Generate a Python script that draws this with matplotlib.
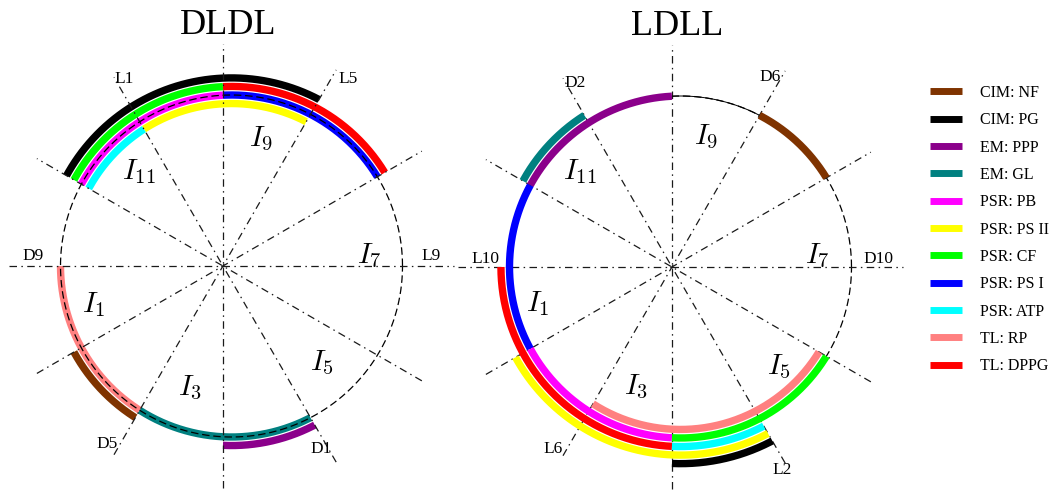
import numpy as np
import matplotlib
matplotlib.use('Agg')
import matplotlib.pyplot as plt
from matplotlib.lines import Line2D

plt.rcParams['font.family'] = ['Liberation Serif', 'DejaVu Serif']
plt.rcParams['mathtext.fontset'] = 'cm'

# legend order and colours
series = ['CIM: NF', 'CIM: PG', 'EM: PPP', 'EM: GL', 'PSR: PB', 'PSR: PS II',
          'PSR: CF', 'PSR: PS I', 'PSR: ATP', 'TL: RP', 'TL: DPPG']
colors = ['#7f3300', '#000000', '#8b008b', '#008080', '#ff00ff', '#ffff00',
          '#00ff00', '#0000ff', '#00ffff', '#ff8080', '#ff0000']

# DLDL: which series is active between two radial lines (degrees), ring 0 = base circle
dldl_series = ['TL: RP', 'CIM: NF', 'EM: GL', 'EM: PPP', 'CIM: PG', 'PSR: CF',
               'TL: DPPG', 'PSR: PB', 'PSR: PS I', 'PSR: PS II', 'PSR: ATP']
dldl_start = [180, 210, 240, 270, 60, 90, 30, 90, 30, 60, 120]
dldl_end = [240, 240, 300, 300, 150, 150, 90, 150, 90, 120, 150]
dldl_ring = [0, 1, 0, 1, 2, 1, 1, 0, 0, -1, -1]

# LDLL
ldll_series = ['EM: PPP', 'EM: GL', 'CIM: NF', 'PSR: PS I', 'TL: DPPG', 'PSR: PB',
               'PSR: PS II', 'TL: RP', 'PSR: CF', 'PSR: ATP', 'CIM: PG']
ldll_start = [90, 120, 30, 150, 180, 210, 210, 240, 270, 270, 270]
ldll_end = [150, 150, 60, 210, 270, 270, 300, 330, 330, 300, 300]
ldll_ring = [0, 1, 0, 0, 1, 0, 2, -1, 0, 1, 3]

# light / dark switching points written next to the radial lines
dldl_marks = ['L9', 'L5', 'L1', 'D9', 'D5', 'D1']
ldll_marks = ['D10', 'D6', 'D2', 'L10', 'L6', 'L2']
interval_names = ['$I_1$', '$I_3$', '$I_5$', '$I_7$', '$I_9$', '$I_{11}$']

# label placement (polar around the circle centre / xy for the interval names)
dldl_mark_ang = [3, 58, 120, 177, 235, 296]
dldl_mark_rad = [1.17, 1.29, 1.26, 1.16, 1.27, 1.19]
ldll_mark_ang = [2.3, 64.8, 119.8, 177.7, 235, 296.6]
ldll_mark_rad = [1.16, 1.23, 1.24, 1.14, 1.30, 1.33]
dldl_int_x = [-0.804, -0.243, 0.529, 0.804, 0.173, -0.541]
dldl_int_y = [-0.228, -0.713, -0.567, 0.058, 0.743, 0.550]
ldll_int_x = [-0.833, -0.260, 0.576, 0.798, 0.149, -0.588]
ldll_int_y = [-0.211, -0.702, -0.585, 0.064, 0.760, 0.556]

W, H = 1052, 493
S = 171.0          # pixels per unit radius
HUB = -0.05        # radial lines meet slightly left of the circle centre
GAP = 0.05         # distance between stacked rings
LINE_R = 1.3
ARC_LW = 5.3

fig = plt.figure(figsize=(W / 100, H / 100), dpi=100)


def make_axes(cx, cy):
    hx, top, bot = 1.35, 1.45, 1.35
    left = cx - hx * S
    bottom = H - (cy + bot * S)
    ax = fig.add_axes([left / W, bottom / H, 2 * hx * S / W, (top + bot) * S / H])
    ax.set_xlim(-hx, hx)
    ax.set_ylim(-bot, top)
    ax.set_axis_off()
    ax.patch.set_alpha(0)
    return ax


def line_hit(theta, r):
    # angle (around the centre) where the radial line at theta meets a circle of radius r
    c, s = np.cos(theta), np.sin(theta)
    t = -HUB * c + np.sqrt(r ** 2 - (HUB * s) ** 2)
    return np.arctan2(t * s, HUB + t * c)


def draw_panel(ax, title, names, start, end, ring, marks, mark_ang, mark_rad,
               int_x, int_y, guides_on_top):
    z_guides = 5 if guides_on_top else 1
    th = np.linspace(0, 2 * np.pi, 400)
    ax.plot(np.cos(th), np.sin(th), color='k', lw=0.9, ls=(0, (6, 3)), zorder=z_guides)

    for deg in range(0, 180, 30):
        a = np.radians(deg)
        c, s = np.cos(a), np.sin(a)
        root = np.sqrt(LINE_R ** 2 - (HUB * s) ** 2)
        t = np.array([-HUB * c - root, -HUB * c + root])
        ax.plot(HUB + t * c, t * s, color='0.1', lw=0.9, ls=(0, (6, 3.5, 1.2, 3.5)),
                zorder=z_guides)

    for name, a0, a1, k in zip(names, start, end, ring):
        r = 1 + k * GAP
        t0 = line_hit(np.radians(a0), r)
        t1 = line_hit(np.radians(a1), r)
        if t1 < t0:
            t1 += 2 * np.pi
        tt = np.linspace(t0, t1, 200)
        ax.plot(r * np.cos(tt), r * np.sin(tt), color=colors[series.index(name)],
                lw=ARC_LW, solid_capstyle='butt', zorder=3)

    for m, a, r in zip(marks, mark_ang, mark_rad):
        a = np.radians(a)
        ax.text(r * np.cos(a), r * np.sin(a), m, fontsize=12.5, ha='center', va='center',
                zorder=6)
    for lab, x, y in zip(interval_names, int_x, int_y):
        ax.text(x, y, lab, fontsize=21, ha='center', va='center', zorder=6)
    ax.text(-0.02, 1.355, title, fontsize=26, ha='center', va='baseline')


ax1 = make_axes(231.5, 266)
draw_panel(ax1, 'DLDL', dldl_series, dldl_start, dldl_end, dldl_ring, dldl_marks,
           dldl_mark_ang, dldl_mark_rad, dldl_int_x, dldl_int_y, True)

ax2 = make_axes(680.5, 267)
draw_panel(ax2, 'LDLL', ldll_series, ldll_start, ldll_end, ldll_ring, ldll_marks,
           ldll_mark_ang, ldll_mark_rad, ldll_int_x, ldll_int_y, False)
# thin solid trace left along the base circle between 60 and 90 degrees
tt = np.linspace(line_hit(np.radians(60), 1), line_hit(np.radians(90), 1), 50)
ax2.plot(np.cos(tt), np.sin(tt), color='k', lw=0.7, zorder=2)

handles = [Line2D([], [], color=c, lw=5, solid_capstyle='butt') for c in colors]
fig.legend(handles, series, loc='upper left', bbox_to_anchor=(930 / W, 1 - 85 / H),
           frameon=False, fontsize=11.5, handlelength=2.0, handletextpad=1.1,
           labelspacing=0.71, borderaxespad=0, borderpad=0)

fig.savefig('out.png', dpi=100)
